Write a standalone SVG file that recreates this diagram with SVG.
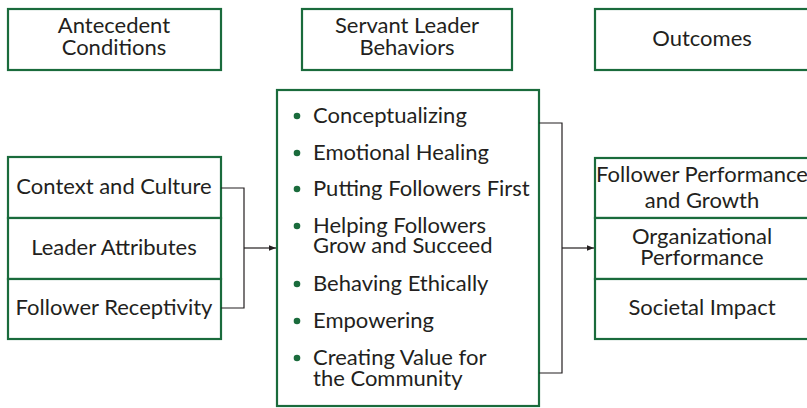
<svg xmlns="http://www.w3.org/2000/svg" width="807" height="408" viewBox="0 0 807 408">
<style>
.box{fill:#fff;stroke:#1a6b3c;stroke-width:2.2}
.t{font-family:Lato,"Open Sans","Liberation Sans",sans-serif;font-size:22px;fill:#231f20}
.c{text-anchor:middle}
.conn{fill:none;stroke:#231f20;stroke-width:1.2}
.dot{fill:#1a6b3c}
</style>
<defs>
<marker id="ah" viewBox="0 0 10 10" refX="10" refY="5" markerWidth="7" markerHeight="7" markerUnits="userSpaceOnUse" orient="auto">
<path d="M0,1 L10,5 L0,9 Z" fill="#231f20"/>
</marker>
</defs>
<g id="h-antecedent"><rect class="box" x="8" y="9" width="213" height="61"/><text class="t c" x="114" y="33">Antecedent</text><text class="t c" x="114" y="55">Conditions</text></g>
<g id="h-behaviors"><rect class="box" x="302" y="9" width="210" height="61"/><text class="t c" x="407" y="33">Servant Leader</text><text class="t c" x="407" y="55">Behaviors</text></g>
<g id="h-outcomes"><rect class="box" x="595" y="9" width="215" height="61"/><text class="t c" x="702" y="46">Outcomes</text></g>
<g id="context"><rect class="box" x="8" y="157" width="213" height="61"/><text class="t c" x="114" y="194">Context and Culture</text></g>
<g id="leader"><rect class="box" x="8" y="218" width="213" height="61"/><text class="t c" x="114" y="255">Leader Attributes</text></g>
<g id="receptivity"><rect class="box" x="8" y="279" width="213" height="60"/><text class="t c" x="114" y="315">Follower Receptivity</text></g>
<g id="behaviors"><rect class="box" x="277" y="90" width="262" height="316"/>
<circle class="dot" cx="297" cy="116" r="3.3"/><text class="t" x="313" y="123">Conceptualizing</text>
<circle class="dot" cx="297" cy="153" r="3.3"/><text class="t" x="313" y="160">Emotional Healing</text>
<circle class="dot" cx="297" cy="189" r="3.3"/><text class="t" x="313" y="196">Putting Followers First</text>
<circle class="dot" cx="297" cy="226" r="3.3"/><text class="t" x="313" y="233">Helping Followers</text><text class="t" x="313" y="253">Grow and Succeed</text>
<circle class="dot" cx="297" cy="284" r="3.3"/><text class="t" x="313" y="291">Behaving Ethically</text>
<circle class="dot" cx="297" cy="321" r="3.3"/><text class="t" x="313" y="328">Empowering</text>
<circle class="dot" cx="297" cy="358" r="3.3"/><text class="t" x="313" y="365">Creating Value for</text><text class="t" x="313" y="386">the Community</text>
</g>
<g id="perf"><rect class="box" x="595" y="158" width="215" height="60"/><text class="t c" x="702" y="182">Follower Performance</text><text class="t c" x="702" y="208">and Growth</text></g>
<g id="org"><rect class="box" x="595" y="218" width="215" height="61"/><text class="t c" x="702" y="244">Organizational</text><text class="t c" x="702" y="265">Performance</text></g>
<g id="society"><rect class="box" x="595" y="279" width="215" height="60"/><text class="t c" x="702" y="315">Societal Impact</text></g>
<g id="connectors">
<path class="conn" d="M221,188 H244 V308 H221"/>
<path class="conn" d="M244,248 H276" marker-end="url(#ah)"/>
<path class="conn" d="M539,123 H562 V373 H539"/>
<path class="conn" d="M562,248 H594" marker-end="url(#ah)"/>
</g>
</svg>
